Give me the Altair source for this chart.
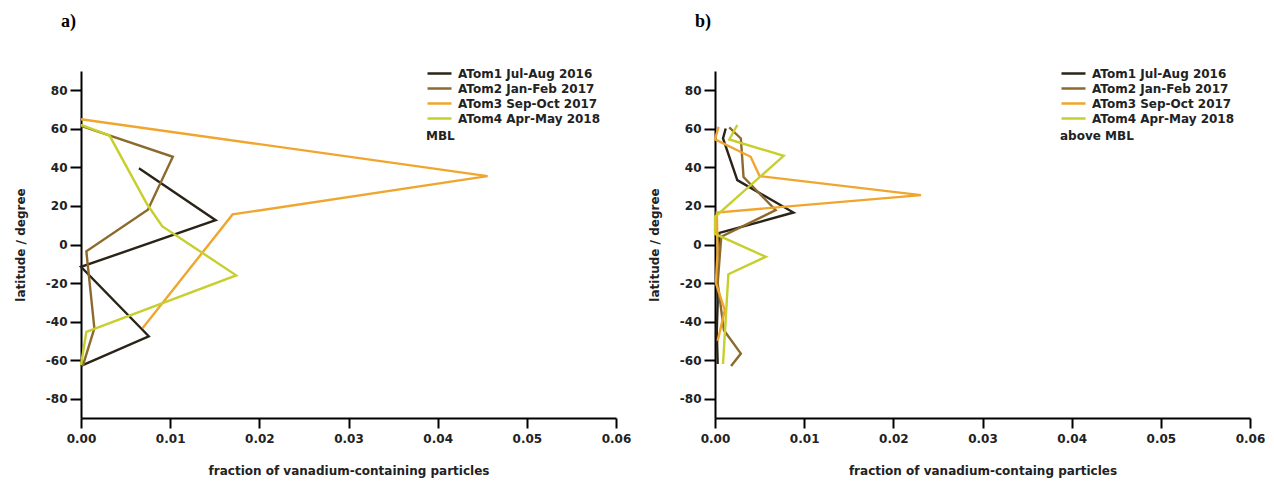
import altair as alt
import pandas as pd

cruises = ["ATom1 Jul-Aug 2016", "ATom2 Jan-Feb 2017", "ATom3 Sep-Oct 2017", "ATom4 Apr-May 2018"]
colors = ["#2a2418", "#8c6a2c", "#f0a62e", "#c6cf2c"]

# Panel a) MBL
a_atom1_lat = [39.5, 12.6, -11.6, -47.6, -63.0]
a_atom1_frac = [0.0065, 0.0151, 0.0, 0.0076, 0.0]
a_atom2_lat = [61.5, 45.5, 18.0, -3.5, -43.5, -63.0]
a_atom2_frac = [0.0, 0.0103, 0.0075, 0.0006, 0.0015, 0.0002]
a_atom3_lat = [65.0, 35.5, 15.6, -43.5]
a_atom3_frac = [0.0, 0.0456, 0.0170, 0.0069]
a_atom4_lat = [62.0, 56.5, 21.0, 9.5, -16.0, -45.3, -62.5]
a_atom4_frac = [0.0, 0.0032, 0.0074, 0.0091, 0.0174, 0.0006, 0.0]

# Panel b) above MBL
b_atom1_lat = [60.2, 55.0, 33.4, 16.6, 6.0, -10.0, -30.0, -45.0, -62.0]
b_atom1_frac = [0.0012, 0.0009, 0.0025, 0.0088, 0.0005, 0.0002, 0.0003, 0.0002, 0.0003]
b_atom2_lat = [60.7, 55.0, 35.0, 17.8, 4.0, -20.0, -44.5, -56.6, -63.0]
b_atom2_frac = [0.0016, 0.0029, 0.0032, 0.0068, 0.0007, 0.0003, 0.0010, 0.0029, 0.0018]
b_atom3_lat = [61.0, 54.5, 45.5, 35.5, 25.6, 16.6, -3.0, -20.0, -34.0, -50.0]
b_atom3_frac = [0.0004, 0.0, 0.0040, 0.0050, 0.0231, 0.0002, 0.0003, 0.0001, 0.0011, 0.0003]
b_atom4_lat = [62.0, 54.5, 46.0, 14.4, 5.5, -6.4, -15.4, -62.0]
b_atom4_frac = [0.0025, 0.0016, 0.0077, 0.0, 0.0, 0.0057, 0.0015, 0.0009]

x_ticks = [0.0, 0.01, 0.02, 0.03, 0.04, 0.05, 0.06]
y_ticks = [-80, -60, -40, -20, 0, 20, 40, 60, 80]


def frame(series):
    rows = []
    for name, lats, fracs in series:
        for i, (la, fr) in enumerate(zip(lats, fracs)):
            rows.append({"cruise": name, "lat": la, "frac": fr, "idx": i})
    return pd.DataFrame(rows)


df_a = frame([
    (cruises[0], a_atom1_lat, a_atom1_frac),
    (cruises[1], a_atom2_lat, a_atom2_frac),
    (cruises[2], a_atom3_lat, a_atom3_frac),
    (cruises[3], a_atom4_lat, a_atom4_frac),
])
df_b = frame([
    (cruises[0], b_atom1_lat, b_atom1_frac),
    (cruises[1], b_atom2_lat, b_atom2_frac),
    (cruises[2], b_atom3_lat, b_atom3_frac),
    (cruises[3], b_atom4_lat, b_atom4_frac),
])

FONT = "DejaVu Sans"


def panel(df, letter, xtitle, legend_title):
    return alt.Chart(df, title=alt.TitleParams(
        letter, anchor="start", frame="group", dx=-20, offset=35,
        font="Liberation Serif", fontSize=18, fontWeight="bold", color="black",
    )).mark_line(strokeWidth=2.4).encode(
        x=alt.X("frac:Q", title=xtitle,
                scale=alt.Scale(domain=[0, 0.06], nice=False, zero=False),
                axis=alt.Axis(values=x_ticks, format=".2f", titlePadding=21,
                              labelPadding=5, tickSize=10, labelFlush=False)),
        y=alt.Y("lat:Q", title="latitude / degree",
                scale=alt.Scale(domain=[-90, 90], nice=False),
                axis=alt.Axis(values=y_ticks,
                              labelExpr="datum.value < 0 ? '-' + abs(datum.value) : '' + datum.value",
                              titlePadding=18, labelPadding=3, tickSize=11,
                              labelFlush=False)),
        color=alt.Color("cruise:N", scale=alt.Scale(domain=cruises, range=colors),
                        legend=alt.Legend(title=legend_title, orient="none",
                                          legendX=345, legendY=-5,
                                          titleOrient="bottom", titleAnchor="start",
                                          symbolType="M-1,0L3,0", symbolSize=144,
                                          symbolStrokeWidth=2.5, rowPadding=1,
                                          labelOffset=17,
                                          titlePadding=6, padding=0,
                                          labelFont=FONT, labelFontSize=12,
                                          labelFontWeight="bold", labelColor="#222",
                                          titleFont=FONT, titleFontSize=12,
                                          titleFontWeight="bold", titleColor="#222")),
        order="idx:Q",
    ).properties(width=535, height=347)


pa = panel(df_a, "a)", "fraction of vanadium-containing particles", "MBL")
pb = panel(df_b, "b)", "fraction of vanadium-containg particles", "above MBL")

chart = alt.hconcat(pa, pb, spacing=17).resolve_scale(color="independent").configure_view(
    stroke=None
).configure_axis(
    grid=False, domainColor="black", domainWidth=2, tickColor="black", tickWidth=2,
    labelFont=FONT, labelFontSize=12, labelFontWeight="bold", labelColor="#222",
    titleFont=FONT, titleFontSize=12, titleFontWeight="bold", titleColor="#222",
).properties(padding={"left": 6, "top": 5, "right": 0, "bottom": 5})

chart.save("out.html", embed_options={"renderer": "svg", "actions": False})
